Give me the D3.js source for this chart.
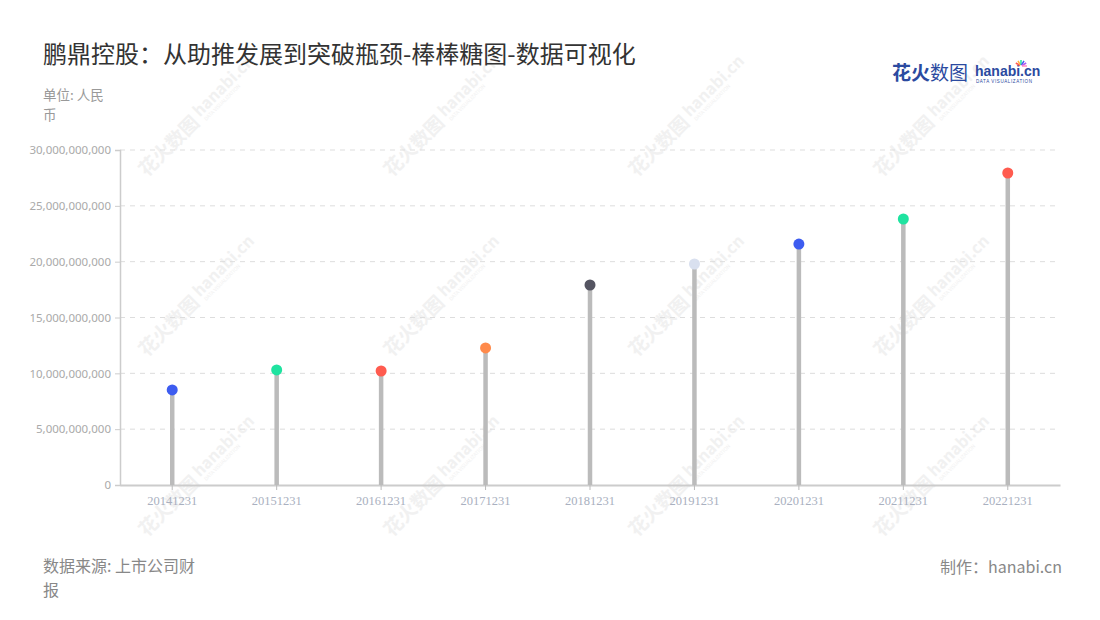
<!DOCTYPE html>
<html><head><meta charset="utf-8">
<script src="https://cdn.jsdelivr.net/npm/d3@7/dist/d3.min.js"></script>
<style>
html,body{margin:0;padding:0;background:#fff;}
svg{display:block;font-family:"Noto Sans CJK SC","Noto Sans",sans-serif;}
</style></head>
<body>
<svg id="chart" width="1100" height="620"></svg>
<script>
const categories = ["20141231","20151231","20161231","20171231","20181231","20191231","20201231","20211231","20221231"];
const values = [8.51e9, 10.30e9, 10.21e9, 12.27e9, 17.91e9, 19.79e9, 21.58e9, 23.82e9, 27.94e9];
const dotColors = ["#3d5cf0","#1fe3a0","#ff5b4f","#ff8a4b","#555562","#d9e0ef","#3d5cf0","#1fe3a0","#ff5b4f"];
const yTicks = [0, 5e9, 10e9, 15e9, 20e9, 25e9, 30e9];

const svg = d3.select("#chart");
const m = {left:120, right:1060, top:150, bottom:485};

// watermarks
const wmCols = [185, 430, 675, 920];
const wmRows = [128, 308, 488];
const wm = svg.append("g").attr("class","watermarks");
wmRows.forEach(wy => wmCols.forEach(wx => {
  const g = wm.append("g").attr("transform",`translate(${wx},${wy}) rotate(-45)`).attr("opacity",0.5);
  g.append("text").attr("x",-62).attr("y",8).attr("font-size",19).attr("font-weight","bold")
    .attr("fill","#e4e4e4").text("花火数图");
  g.append("text").attr("x",18).attr("y",3).attr("font-size",16).attr("font-weight","bold")
    .attr("fill","#e4e4e4").text("hanabi.cn");
  g.append("text").attr("x",20).attr("y",10).attr("font-size",5)
    .attr("fill","#e4e4e4").text("DATA VISUALIZATION");
}));

const x = d3.scaleBand().domain(categories).range([m.left, m.right]);
const y = d3.scaleLinear().domain([0, 30e9]).range([m.bottom, m.top]);

// grid
svg.append("g").selectAll("line").data(yTicks.filter(d=>d>0)).join("line")
  .attr("x1", m.left).attr("x2", m.right)
  .attr("y1", d=>y(d)).attr("y2", d=>y(d))
  .attr("stroke","#dddddd").attr("stroke-dasharray","5,5").attr("stroke-width",1);

// y axis
const yAxis = svg.append("g").attr("transform",`translate(${m.left},0)`)
  .call(d3.axisLeft(y).tickValues(yTicks).tickSize(5).tickPadding(4).tickFormat(d3.format(",")));
yAxis.select(".domain").attr("stroke","#cccccc").attr("stroke-width",1.5);
yAxis.selectAll(".tick line").attr("stroke","#cccccc");
yAxis.selectAll(".tick text").attr("fill","#aaaaaa").attr("font-size",11.5)
  .attr("font-family","'Noto Sans',sans-serif");

// x axis
const xAxis = svg.append("g").attr("transform",`translate(0,${m.bottom})`)
  .call(d3.axisBottom(x).tickSize(5).tickPadding(6).tickSizeOuter(0));
xAxis.select(".domain").attr("stroke","#cccccc").attr("stroke-width",2);
xAxis.selectAll(".tick line").attr("stroke","#bbbbbb");
xAxis.selectAll(".tick text").attr("fill","#a9b0c0").attr("font-size",12.5)
  .attr("font-family","'Liberation Serif',serif");

// stems
svg.append("g").selectAll("line").data(values).join("line")
  .attr("x1",(d,i)=>x(categories[i])+x.bandwidth()/2)
  .attr("x2",(d,i)=>x(categories[i])+x.bandwidth()/2)
  .attr("y1", y(0)).attr("y2", d=>y(d))
  .attr("stroke","#bbbbbb").attr("stroke-width",4.5);

// dots
svg.append("g").selectAll("circle").data(values).join("circle")
  .attr("cx",(d,i)=>x(categories[i])+x.bandwidth()/2)
  .attr("cy", d=>y(d)).attr("r",5.5)
  .attr("fill",(d,i)=>dotColors[i]);

// title
svg.append("text").attr("x",43).attr("y",63).attr("font-size",24).attr("fill","#333333")
  .text("鹏鼎控股：从助推发展到突破瓶颈-棒棒糖图-数据可视化");

// unit
svg.append("text").attr("x",43).attr("y",100).attr("font-size",13.5).attr("fill","#999999").text("单位: 人民");
svg.append("text").attr("x",43).attr("y",120).attr("font-size",13.5).attr("fill","#999999").text("币");

// footer
svg.append("text").attr("x",43).attr("y",572).attr("font-size",16).attr("fill","#888888").text("数据来源: 上市公司财");
svg.append("text").attr("x",43).attr("y",596).attr("font-size",16).attr("fill","#888888").text("报");
svg.append("text").attr("x",1062).attr("y",573).attr("text-anchor","end").attr("font-size",16)
  .attr("fill","#888888").text("制作：hanabi.cn");

// logo
const logo = svg.append("g");
logo.append("text").attr("x",892).attr("y",80).attr("font-size",19).attr("font-weight","bold")
  .attr("fill","#2b4aa0").text("花火");
logo.append("text").attr("x",930).attr("y",80).attr("font-size",19)
  .attr("fill","#2b4aa0").text("数图");
logo.append("text").attr("x",975).attr("y",76).attr("font-size",14).attr("font-weight","bold")
  .attr("fill","#2b4aa0").attr("font-family","'Liberation Sans',sans-serif").text("hanabi.cn");
logo.append("text").attr("x",976).attr("y",83).attr("font-size",4.5)
  .attr("fill","#2b4aa0").attr("font-family","'Liberation Sans',sans-serif").attr("letter-spacing",0.6).text("DATA VISUALIZATION");
const spark = [["#ff5b4f",-60],["#ffb13b",-30],["#1fe3a0",0],["#3d5cf0",30],["#b05cf0",60],["#ff8ac0",90]];
spark.forEach(([c,a])=>{
  logo.append("line").attr("x1",1021).attr("y1",65).attr("x2",1021).attr("y2",60)
    .attr("transform",`rotate(${a},1021,66)`).attr("stroke",c).attr("stroke-width",1.5);
});
</script>
</body></html>
